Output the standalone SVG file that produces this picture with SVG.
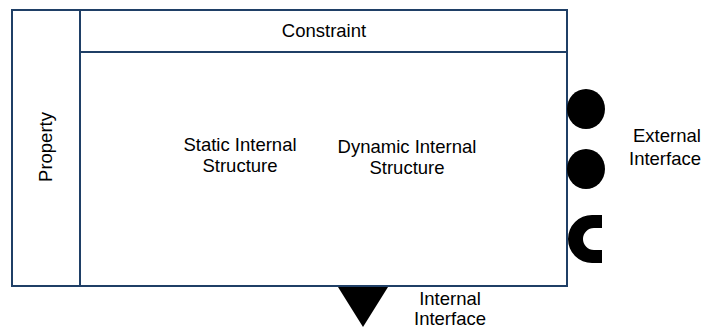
<svg xmlns="http://www.w3.org/2000/svg" width="707" height="330" viewBox="0 0 707 330">
  <style>
    .box { fill: #ffffff; stroke: #1f3f66; stroke-width: 2; }
    .port { fill: #000000; }
    .lbl { font-family: "Liberation Sans", Arial, sans-serif; font-size: 18.5px; fill: #000000; }
  </style>
  <rect width="707" height="330" fill="#ffffff"/>

  <!-- component body with its compartments -->
  <g id="component">
    <rect class="box" x="12" y="10" width="555" height="276"/>
  </g>
  <g id="property">
    <rect class="box" x="12" y="10" width="68" height="276"/>
    <text class="lbl" transform="translate(52,147) rotate(-90)" text-anchor="middle">Property</text>
  </g>
  <g id="constraint">
    <rect class="box" x="80" y="10" width="487" height="42"/>
    <text class="lbl" x="324" y="37" text-anchor="middle">Constraint</text>
  </g>
  <g id="static-structure">
    <text class="lbl" x="240" y="151" text-anchor="middle">Static Internal</text>
    <text class="lbl" x="240" y="172" text-anchor="middle">Structure</text>
  </g>
  <g id="dynamic-structure">
    <text class="lbl" x="407" y="153" text-anchor="middle">Dynamic Internal</text>
    <text class="lbl" x="407" y="174" text-anchor="middle">Structure</text>
  </g>

  <!-- external interface ports -->
  <g id="external-interface">
    <ellipse class="port" cx="586" cy="109" rx="19" ry="20"/>
    <ellipse class="port" cx="586" cy="169" rx="19" ry="20"/>
    <path class="port" d="M 602 215 L 592 215 A 24 24 0 0 0 592 263 L 602 263 L 602 250 L 594 250 A 11 11 0 0 1 594 228 L 602 228 Z"/>
    <text class="lbl" x="633" y="142">External</text>
    <text class="lbl" x="629" y="165">Interface</text>
  </g>

  <!-- internal interface port -->
  <g id="internal-interface">
    <polygon class="port" points="338,287 388,287 363,327"/>
    <text class="lbl" x="450" y="305" text-anchor="middle">Internal</text>
    <text class="lbl" x="450" y="325" text-anchor="middle">Interface</text>
  </g>

  <g id="connectors"></g>
</svg>
